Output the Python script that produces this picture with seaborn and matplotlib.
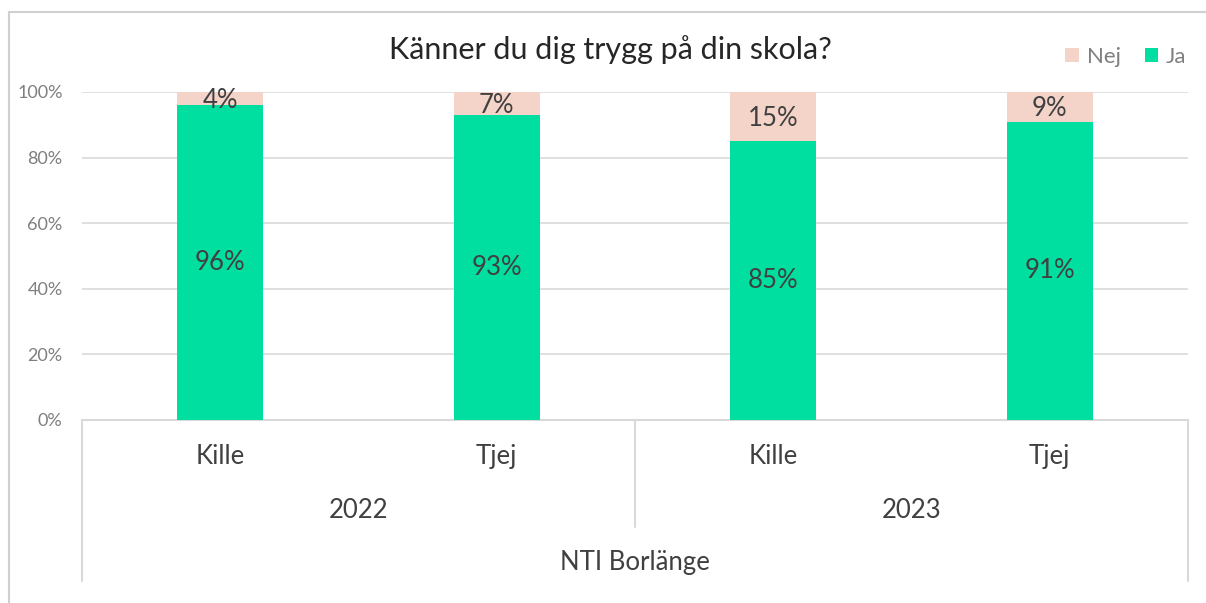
import matplotlib
matplotlib.use("Agg")
import matplotlib.pyplot as plt
import matplotlib.transforms as mtransforms
from matplotlib.lines import Line2D
from matplotlib.patches import Patch
import seaborn as sns
import pandas as pd

sns.set_theme(style="white")
plt.rcParams['font.family'] = ['Lato', 'DejaVu Sans']

title = "Känner du dig trygg på din skola?"
genders = ["Kille", "Tjej", "Kille", "Tjej"]
years = ["2022", "2023"]
school = "NTI Borlänge"
ja = [96, 93, 85, 91]
nej = [4, 7, 15, 9]
yticks = [0, 20, 40, 60, 80, 100]

GREEN = "#00DF9F"
PINK = "#F4D3C8"
TXT = "#404040"
TICK = "#7F7F7F"
GRID = "#D9D9D9"

keys = [f"{g} {i}" for i, g in enumerate(genders)]
df = pd.DataFrame({"key": keys, "ja": ja, "total": [a + b for a, b in zip(ja, nej)]})

fig = plt.figure(figsize=(12.06, 6.03), dpi=100)
ax = fig.add_axes([82/1206, 1-420/603, (1188-82)/1206, (420-92)/603])

sns.barplot(data=df, x="key", y="total", color=PINK, width=0.31, ax=ax, saturation=1, zorder=2, linewidth=0)
sns.barplot(data=df, x="key", y="ja", color=GREEN, width=0.31, ax=ax, saturation=1, zorder=3, linewidth=0)

ax.set_ylim(0, 100)
ax.set_xlim(-0.5, 3.5)
ax.set_yticks(yticks)
ax.set_yticklabels([f"{v}%" for v in yticks], color=TICK, fontsize=13)
ax.tick_params(axis="y", length=0, pad=14)
ax.set_xticks([])
ax.set_xlabel("")
ax.set_ylabel("")
for v in yticks[1:]:
    ax.axhline(v, color=GRID, lw=1.2, zorder=1)
for s in ["left", "right", "top"]:
    ax.spines[s].set_visible(False)
ax.spines["bottom"].set_color(GRID)
ax.spines["bottom"].set_linewidth(1.5)

# data labels
for i in range(len(ja)):
    ax.text(i, ja[i] / 2, f"{ja[i]}%", ha="center", va="center", fontsize=18.5, color=TXT, zorder=5)
    ax.text(i, ja[i] + nej[i] / 2 - 0.6, f"{nej[i]}%", ha="center", va="center", fontsize=18.5, color=TXT, zorder=5)

# multi-level category axis
tr = mtransforms.blended_transform_factory(ax.transData, ax.transAxes)
for i, g in enumerate(genders):
    ax.text(i, -0.11, g, transform=tr, ha="center", va="center", fontsize=18.5, color=TXT)
for j, y in enumerate(years):
    ax.text(2 * j + 0.5, -0.275, y, transform=tr, ha="center", va="center", fontsize=18.5, color=TXT)
ax.text(1.5, -0.435, school, transform=tr, ha="center", va="center", fontsize=18.5, color=TXT)
for x, y1 in [(-0.5, -0.49), (1.5, -0.325), (3.5, -0.49)]:
    ax.add_line(Line2D([x, x], [0, y1], transform=tr, color=GRID, lw=1.5, clip_on=False))

# title
fig.text(610/1206, 1-50/603, title, ha="center", va="center", fontsize=22, color="#262626")

# legend
handles = [Patch(facecolor=PINK, edgecolor="none", label="Nej"),
           Patch(facecolor=GREEN, edgecolor="none", label="Ja")]
fig.legend(handles=handles, loc="center", bbox_to_anchor=(1126/1206, 1-57/603), ncol=2, frameon=False,
           fontsize=16, labelcolor=TICK, handlelength=0.6, handleheight=0.6, handletextpad=0.35,
           columnspacing=1.1)

# chart border
fig.add_artist(Line2D([9/1206, 9/1206], [0, 1-12/603], transform=fig.transFigure, color="#D0D0D0", lw=1.5))
fig.add_artist(Line2D([9/1206, 1], [1-12/603, 1-12/603], transform=fig.transFigure, color="#D0D0D0", lw=1.5))

fig.savefig("out.png", dpi=100)
